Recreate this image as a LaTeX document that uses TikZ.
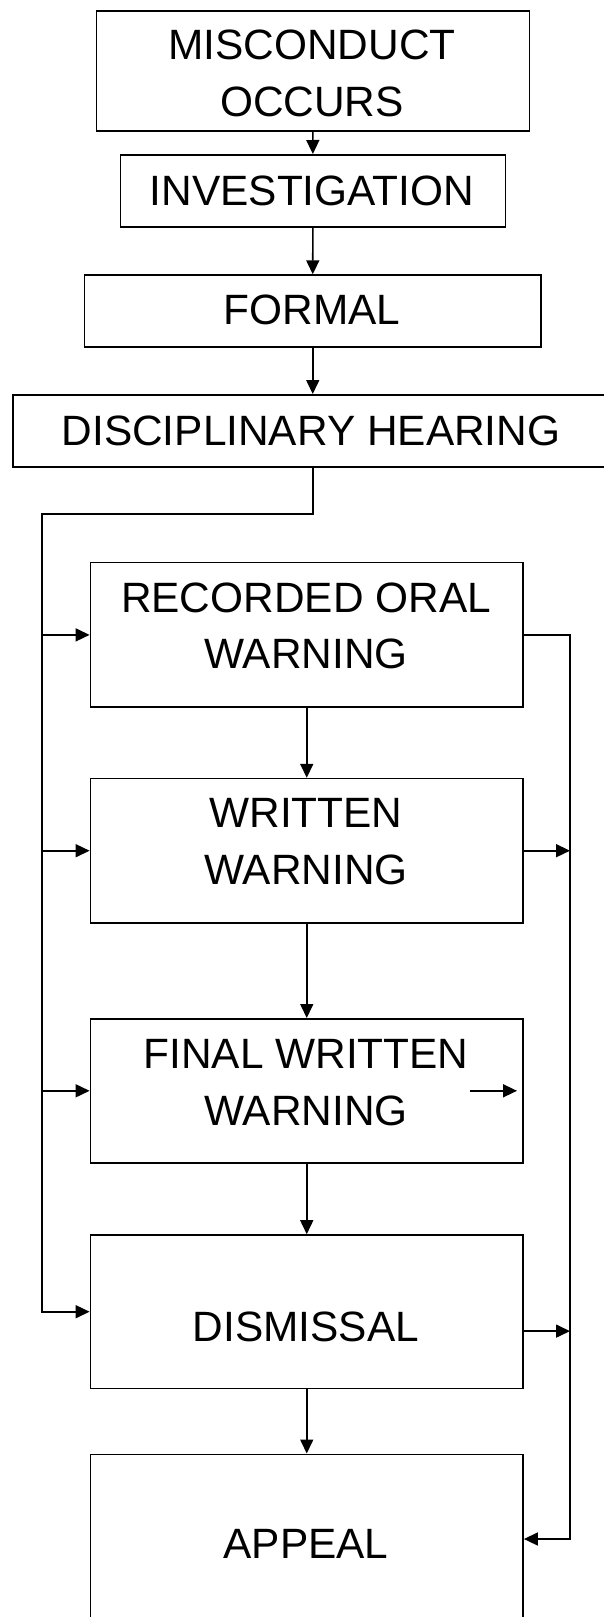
\documentclass[tikz,border=0pt]{standalone}
\usepackage{fontspec}
\setmainfont{Liberation Sans}
\usetikzlibrary{arrows.meta,calc}
\tikzset{
  box/.style={draw, line width=1.6pt, inner sep=0pt, anchor=north west},
  lbl/.style={font=\fontsize{42.4}{56.5}\selectfont, inner sep=0pt, align=center},
  conn/.style={line width=1.6pt},
  arr/.style={conn, -{Triangle[length=14pt,width=13pt]}},
}
\begin{document}
\begin{tikzpicture}[x=1pt,y=-1pt]
\useasboundingbox (0,0) rectangle (603,1617);
% boxes
\node[box, minimum width=433pt,   minimum height=119.7pt] (mis) at (95.5,10.3) {};
\node[box, minimum width=384.9pt, minimum height=72pt]    (inv) at (119.6,154) {};
\node[box, minimum width=456.5pt, minimum height=72pt]    (frm) at (83.7,274.3) {};
\node[box, minimum width=592pt,   minimum height=72pt]    (dis) at (12,394) {};
\node[box, minimum width=432.7pt, minimum height=144.6pt] (row) at (89.6,561.8) {};
\node[box, minimum width=432.7pt, minimum height=144.2pt] (ww)  at (89.6,777.8) {};
\node[box, minimum width=432.7pt, minimum height=144pt]   (fww) at (89.6,1018) {};
\node[box, minimum width=432.7pt, minimum height=153.4pt] (dsm) at (89.6,1234.2) {};
\node[box, minimum width=432.7pt, minimum height=169.4pt] (app) at (89.6,1453.5) {};
% texts
\node[lbl, anchor=north] (mis-t) at (312,30.1) {MISCONDUCT\\OCCURS};
\node[lbl, anchor=base]  (inv-t) at (312,205) {INVESTIGATION};
\node[lbl, anchor=base]  (frm-t) at (312,324) {FORMAL};
\node[lbl, anchor=base]  (dis-t) at (311,445) {DISCIPLINARY HEARING};
\node[lbl, anchor=north] (row-t) at (306,582.6) {RECORDED ORAL\\WARNING};
\node[lbl, anchor=north] (ww-t)  at (306,798.6) {WRITTEN\\WARNING};
\node[lbl, anchor=north] (fww-t) at (306,1039.2) {FINAL WRITTEN\\WARNING};
\node[lbl, anchor=base]  (dsm-t) at (306,1341) {DISMISSAL};
\node[lbl, anchor=base]  (app-t) at (306,1558) {APPEAL};
% helper coordinates
\coordinate (tl) at (41.9,513.7);
\coordinate (rt) at (570,634.1);
% top chain
\draw[arr] (mis.south) -- (inv.north);
\draw[arr] (inv.south) -- (frm.north);
\draw[arr] (frm.south) -- (frm.south |- dis.north);
% left bus
\draw[arr] (frm.south |- dis.south) |- (tl) |- (dsm.west);
\draw[arr] (tl |- row.west) -- (row.west);
\draw[arr] (tl |- ww.west) -- (ww.west);
\draw[arr] (tl |- fww.west) -- (fww.west);
% middle chain
\draw[arr] (row.south) -- (ww.north);
\draw[arr] (ww.south) -- (fww.north);
\draw[arr] (fww.south) -- (dsm.north);
\draw[arr] (dsm.south) -- (app.north);
% right bus
\draw[arr] (row.east) -- (row.east -| rt) |- (app.east);
\draw[arr] (ww.east) -- (ww.east -| rt);
\draw[arr] ($(dsm.east)+(0,19.4)$) -- ($(dsm.east -| rt)+(0,19.4)$);
\draw[arr] ($(fww.east)+(-53.8,0)$) -- ($(fww.east)+(-6.9,0)$);
\end{tikzpicture}
\end{document}
